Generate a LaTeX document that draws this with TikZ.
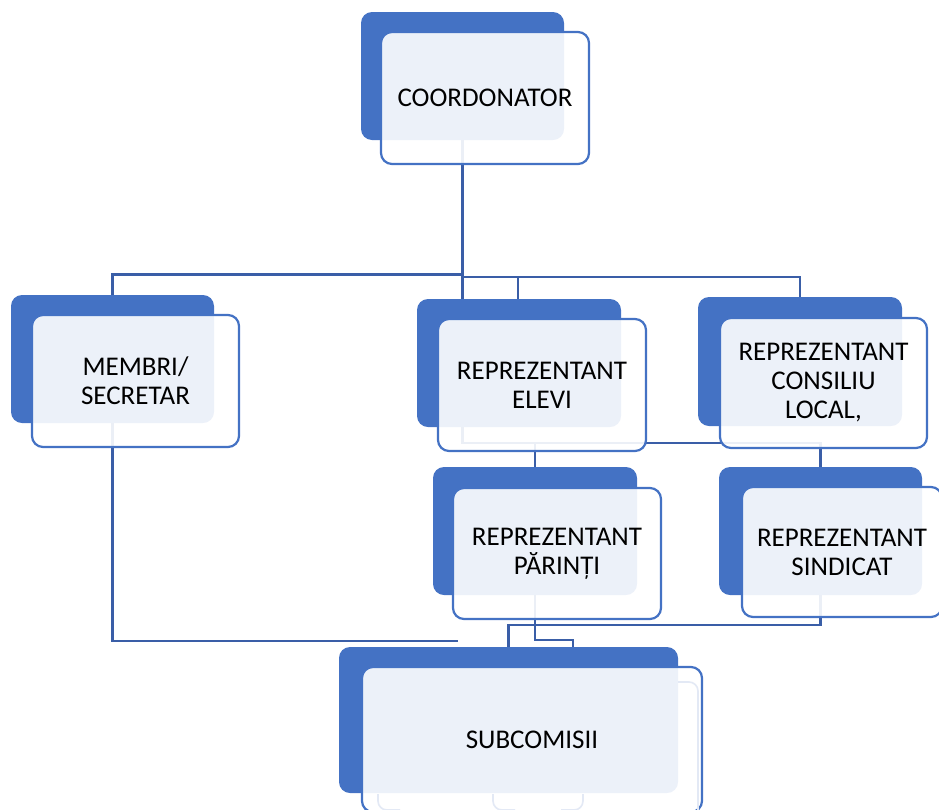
\documentclass[tikz,border=0pt]{standalone}
\usepackage{fontspec}
\setmainfont{Carlito}
\definecolor{boxblue}{HTML}{4472C4}
\definecolor{connblue}{HTML}{3A5EA7}
\definecolor{faintblue}{HTML}{E3E9F5}
\tikzset{
  darkbox/.style={rectangle, fill=boxblue, rounded corners=11pt, inner sep=0pt, outer sep=0pt},
  frontbox/.style={rectangle, fill=white, fill opacity=0.9, text opacity=1, draw=boxblue, line width=2.2pt,
    rounded corners=11pt, inner sep=0pt, outer sep=0pt, align=center, text=black,
    font=\fontsize{27}{29}\selectfont},
  conn/.style={draw=connblue, line width=2.5pt},
  faint/.style={draw=faintblue, line width=1.6pt, rounded corners=9pt}
}
\begin{document}
\begin{tikzpicture}[x=1pt,y=-1pt]
\useasboundingbox (0,0) rectangle (939,809);
% centres of the dark boxes
\path (462.5,76) coordinate (cC) (112.5,359) coordinate (mC) (519,363) coordinate (eC)
      (800,361.5) coordinate (kC) (535,531) coordinate (pC) (820.5,531) coordinate (sC)
      (508.5,720) coordinate (bC);
% invisible placeholders giving the anchors of the dark boxes
\node[minimum width=203pt, minimum height=128pt, inner sep=0pt, outer sep=0pt] (cD) at (cC) {};
\node[minimum width=203pt, minimum height=128pt, inner sep=0pt, outer sep=0pt] (mD) at (mC) {};
\node[minimum width=204pt, minimum height=128pt, inner sep=0pt, outer sep=0pt] (eD) at (eC) {};
\node[minimum width=204pt, minimum height=129pt, inner sep=0pt, outer sep=0pt] (kD) at (kC) {};
\node[minimum width=204pt, minimum height=128pt, inner sep=0pt, outer sep=0pt] (pD) at (pC) {};
\node[minimum width=203pt, minimum height=128pt, inner sep=0pt, outer sep=0pt] (sD) at (sC) {};
\node[minimum width=339pt, minimum height=146pt, inner sep=0pt, outer sep=0pt] (bD) at (bC) {};
% tap coordinates
\coordinate (hubL) at (462.5,274.5);
\coordinate (hubR) at (462.5,277);
\coordinate (eTap) at (518,277);
\coordinate (mEnd) at (458,641);
\coordinate (midL) at (462.5,443);
\coordinate (pTap) at (573,640);
\coordinate (sTap) at (508.5,625);
% connectors
\draw[conn] (cD.south) -- (cD.south |- eD.north);
\draw[conn] (mD.north) |- (hubL);
\draw[conn] (hubR) -| (kD.north);
\draw[conn] (eTap) -- (eTap |- eD.north);
\draw[conn] (mD.south) |- (mEnd);
\draw[conn] (eD.south -| cD.south) -- (midL) -| (sD.north);
\draw[conn] (pD.north |- midL) -- (pD.north);
\draw[conn] (pD.south) |- (pTap) -- (pTap |- bD.north);
\draw[conn] (sD.south) |- (sTap) -- (bD.north);
% boxes
\node[darkbox, minimum width=203pt, minimum height=128pt] (cDk) at (cC) {};
\node[frontbox, minimum width=208pt, minimum height=132pt] (cF) at (485,98) {COORDONATOR};
\node[darkbox, minimum width=203pt, minimum height=128pt] (mDk) at (mC) {};
\node[frontbox, minimum width=207pt, minimum height=132pt] (mF) at (135.5,381) {MEMBRI/\\SECRETAR};
\node[darkbox, minimum width=204pt, minimum height=128pt] (eDk) at (eC) {};
\node[frontbox, minimum width=208pt, minimum height=132pt] (eF) at (542,385) {REPREZENTANT\\ELEVI};
\node[darkbox, minimum width=204pt, minimum height=129pt] (kDk) at (kC) {};
\node[frontbox, minimum width=207pt, minimum height=130pt] (kF) at (823.5,383) {REPREZENTANT\\CONSILIU\\LOCAL,};
\node[darkbox, minimum width=204pt, minimum height=128pt] (pDk) at (pC) {};
\node[frontbox, minimum width=208pt, minimum height=131pt] (pF) at (557,553.5) {REPREZENTANT\\PĂRINȚI};
\node[darkbox, minimum width=203pt, minimum height=128pt] (sDk) at (sC) {};
\node[frontbox, minimum width=200pt, minimum height=130pt] (sF) at (842,552) {REPREZENTANT\\SINDICAT};
\node[darkbox, minimum width=339pt, minimum height=146pt] (bDk) at (bC) {};
\node[frontbox, minimum width=340pt, minimum height=145pt] (bF) at (532,739.5) {SUBCOMISII};
% faint outlines showing through the bottom box
\draw[faint] (678,682) -- (698,682) -- (698,815);
\draw[faint] (378,794) -- (378,810) -- (400,810);
\draw[faint] (493,794) -- (493,810) -- (515,810);
\draw[faint] (583,794) -- (583,810) -- (561,810);
\end{tikzpicture}
\end{document}
